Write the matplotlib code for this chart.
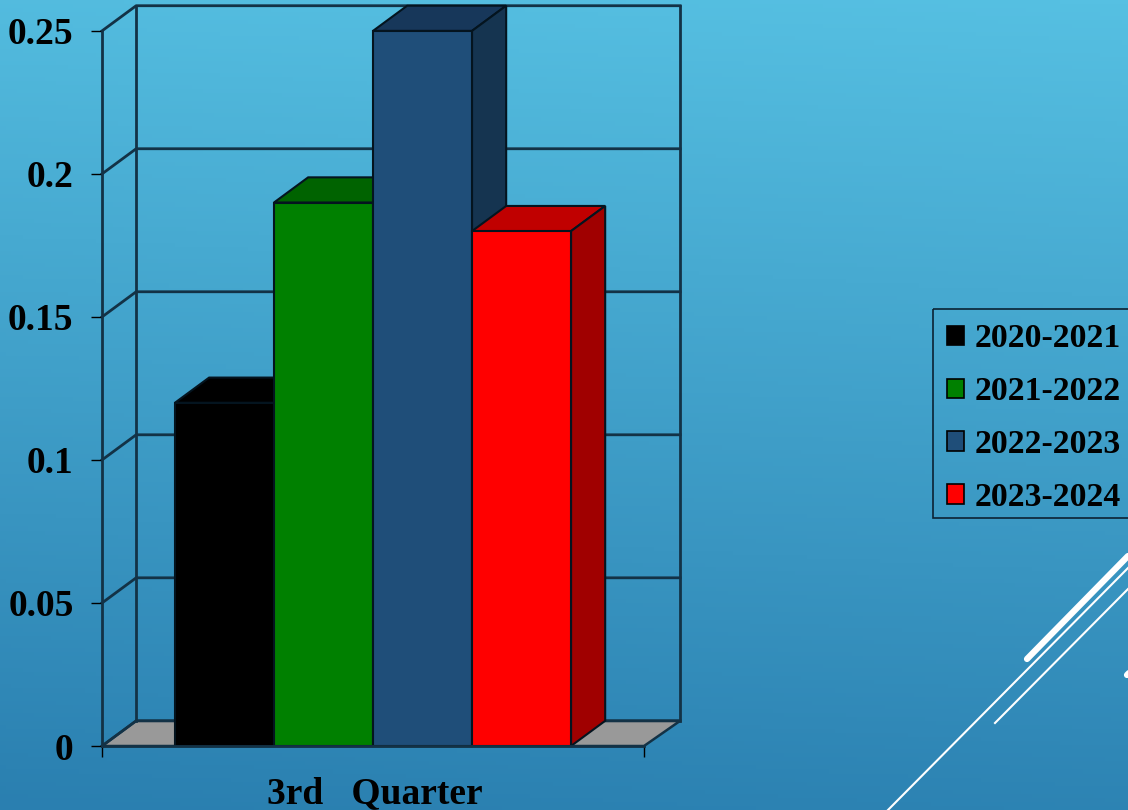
import numpy as np
import matplotlib
matplotlib.use("Agg")
import matplotlib.pyplot as plt
from matplotlib.colors import LinearSegmentedColormap
from matplotlib.patches import Patch, Rectangle

# data
seasons = ["2020-2021", "2021-2022", "2022-2023", "2023-2024"]
values = [0.12, 0.19, 0.25, 0.18]
category = "3rd   Quarter"
y_ticks = [0, 0.05, 0.1, 0.15, 0.2, 0.25]
y_labels = ["0", "0.05", "0.1", "0.15", "0.2", "0.25"]

front = ["#000000", "#008000", "#1f4e79", "#ff0000"]
top = ["#000000", "#006300", "#17375a", "#c00000"]
side = ["#000000", "#005000", "#153450", "#a00000"]
edge = "#04141f"
wall = "#133246"

W, H = 1128, 810
plt.rcParams["font.family"] = ["Liberation Serif", "DejaVu Serif"]
plt.rcParams["font.weight"] = "bold"

fig = plt.figure(figsize=(W / 100, H / 100), dpi=100)

# background gradient, lighter at the top right
bg = fig.add_axes([0, 0, 1, 1], zorder=0)
yy, xx = np.mgrid[0:1:200j, 0:1:200j]
grad = yy * 0.93 + (1 - xx) * 0.07
cmap = LinearSegmentedColormap.from_list("bg", ["#56c0e2", "#2a7fb0"])
bg.imshow(grad, cmap=cmap, aspect="auto", extent=[0, W, H, 0], vmin=0, vmax=1)
bg.set_xlim(0, W)
bg.set_ylim(H, 0)
bg.axis("off")

# white corner lines
bg.plot([888, 1128], [810, 568], color="white", lw=1.5)
bg.plot([995, 1128], [723, 589], color="white", lw=1.5)
bg.plot([1027, 1128], [659, 556], color="white", lw=4.5, solid_capstyle="round")
bg.plot([1127, 1130], [675, 672], color="white", lw=4.5, solid_capstyle="round")

# legend box runs off the right edge like the original
bg.add_patch(Rectangle((933, 309), 210, 209, fc="none", ec="#0b2233", lw=1.2))

# main axes, left 102 px to 644 px, baseline at 746 px
ax = fig.add_axes([102 / W, (H - 746) / H, (644 - 102) / W, 746 / H], zorder=1)
ax.patch.set_alpha(0)
x0, x1 = -2.737, 2.737
ymax = 0.2608
ax.set_xlim(x0, x1)
ax.set_ylim(0, ymax)

dx = 0.345
dx_wall = 0.365
dy = 0.0088
w = 1.0
xs = np.arange(len(values)) - (len(values) - 1) / 2

# floor and back wall
ax.fill([x0, x0 + dx, x1 + dx_wall, x1], [0, dy, dy, 0], color="#999999", ec=wall, lw=1.8,
        clip_on=False, zorder=1)
for t in y_ticks:
    ax.plot([x0, x0 + dx, x1 + dx_wall], [t, t + dy, t + dy], color=wall, lw=2,
            clip_on=False, zorder=1)
ax.plot([x0 + dx, x0 + dx], [dy, 0.25 + dy], color=wall, lw=2, clip_on=False, zorder=1)
ax.plot([x1 + dx_wall, x1 + dx_wall], [dy, 0.25 + dy], color=wall, lw=2, clip_on=False, zorder=1)

# 3d bars, left to right so each front hides the previous side
for i, (x, v) in enumerate(zip(xs, values)):
    l, r = x - w / 2, x + w / 2
    z = 2 + i
    ax.fill([l, l + dx, r + dx, r], [v, v + dy, v + dy, v], fc=top[i], ec=edge, lw=1.5,
            clip_on=False, zorder=z)
    ax.fill([r, r + dx, r + dx, r], [0, dy, v + dy, v], fc=side[i], ec=edge, lw=1.5,
            clip_on=False, zorder=z)
    ax.bar(x, v, width=w, color=front[i], edgecolor=edge, lw=1.5, zorder=z, clip_on=False)

for s in ["top", "right"]:
    ax.spines[s].set_visible(False)
ax.spines["left"].set_bounds(0, 0.25)
ax.spines["left"].set_color(wall)
ax.spines["left"].set_linewidth(2)
ax.spines["left"].set_zorder(10)
ax.spines["bottom"].set_color(wall)
ax.spines["bottom"].set_linewidth(2)
ax.spines["bottom"].set_zorder(10)

ax.set_yticks(y_ticks)
ax.set_yticklabels(y_labels, fontsize=27, fontweight="bold")
ax.set_xticks([x0, x1])
ax.set_xticklabels(["", ""])
ax.tick_params(axis="both", color="black", width=1, length=8)
ax.tick_params(axis="y", pad=12.5)
ax.set_xlabel(category, fontsize=27, fontweight="bold", labelpad=10, color="black", x=0.503)

handles = [Patch(fc=c, ec="black", lw=1.2) for c in front]
leg = fig.legend(handles, seasons, loc="upper left",
                 bbox_to_anchor=(933 / W, (H - 309) / H), bbox_transform=fig.transFigure,
                 prop={"family": "Liberation Serif", "weight": "bold", "size": 24.3},
                 handlelength=0.5, handleheight=0.5, handletextpad=0.3,
                 labelspacing=0.65, borderpad=0.42, borderaxespad=0,
                 frameon=False)
leg.set_zorder(5)

fig.savefig("out.png", dpi=100)
